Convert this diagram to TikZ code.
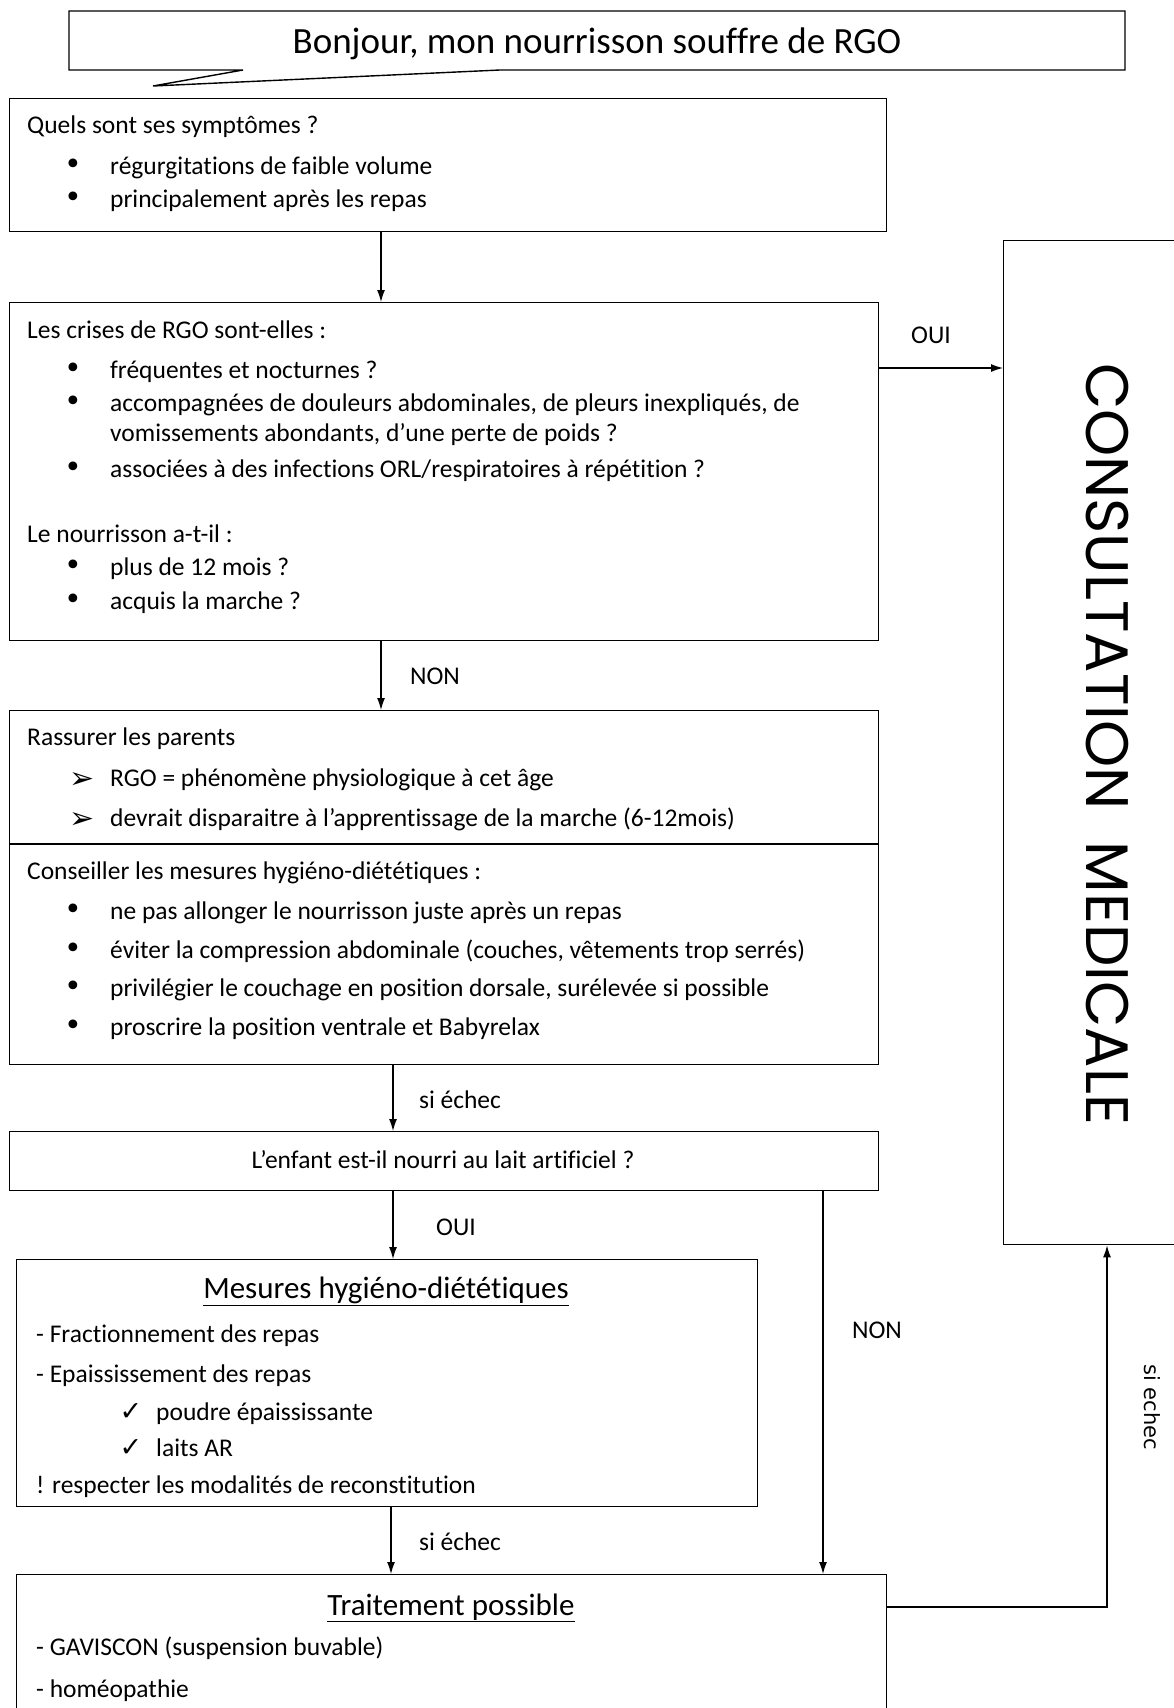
\documentclass[tikz,border=0pt]{standalone}
\usepackage{fontspec}
\setmainfont[Ligatures=NoCommon]{Carlito}
\newfontfamily\djv{DejaVu Sans}
\newfontfamily\geo{Poppins}
\usetikzlibrary{arrows.meta}
\newcommand{\bodyf}{\fontsize{25.5}{30}\selectfont}
\newcommand{\titlef}{\fontsize{37}{44}\selectfont}
\newcommand{\headf}{\fontsize{31}{37}\selectfont}
\newcommand{\bul}{{\djv\fontsize{30}{30}\selectfont •}}
\newcommand{\chk}{{\djv\fontsize{27}{30}\selectfont ✓}}
\newcommand{\arw}{{\djv\fontsize{30}{30}\selectfont ➢}}
\tikzset{
  box/.style={draw, line width=1.4pt, inner sep=0pt, anchor=north west},
  txt/.style={anchor=base west, inner sep=0pt, font=\bodyf},
  lbl/.style={anchor=center, inner sep=0pt, font=\bodyf},
  mk/.style={anchor=base, inner sep=0pt},
  arr/.style={-{Latex[length=12pt,width=8pt]}, line width=1.2pt},
  ln/.style={line width=1.2pt}
}
\begin{document}
\begin{tikzpicture}[x=1pt,y=1pt]
\useasboundingbox (0,0) rectangle (1174,-1708);
% speech bubble
\draw[line width=1.4pt, line join=miter] (243,-70) -- (69,-70) -- (69,-11) -- (1125,-11) -- (1125,-70) -- (500,-70) -- (153,-86) -- cycle;
\node[anchor=center, inner sep=0pt, font=\titlef] (title) at (597,-44) {Bonjour, mon nourrisson souffre de RGO};

% boxes
\node[box, minimum width=877pt, minimum height=133pt] (quel) at (9,-98) {};
\node[box, minimum width=869pt, minimum height=338pt] (crises) at (9,-302) {};
\node[box, minimum width=869pt, minimum height=354pt] (rass) at (9,-710) {};
\node[box, minimum width=869pt, minimum height=59pt] (enf) at (9,-1131) {};
\node[box, minimum width=741pt, minimum height=247pt] (mes) at (16,-1259) {};
\node[box, minimum width=870pt, minimum height=150pt] (trait) at (16,-1574) {};
\node[box, minimum width=190pt, minimum height=1004pt] (cons) at (1003,-240) {};
\draw[line width=1.4pt] (rass.west |- 0,-844) -- (rass.east |- 0,-844);

% consultation text
\node[rotate=-90, anchor=center, inner sep=0pt, font=\geo\fontsize{60}{64}\selectfont] (ctext) at (1107,-744) {CONSULTATION\ \ MEDICALE};

% quel
\node[txt] (q0) at (27,-133) {Quels sont ses symptômes ?};
\node[mk] (qb1) at (73,-174) {\bul};
\node[txt] (q1) at (110,-174) {régurgitations de faible volume};
\node[mk] (qb2) at (73,-207) {\bul};
\node[txt] (q2) at (110,-207) {principalement après les repas};

% crises
\node[txt] (c0) at (27,-338) {Les crises de RGO sont-elles :};
\node[mk] (cb1) at (73,-378) {\bul};
\node[txt] (c1) at (110,-378) {fréquentes et nocturnes ?};
\node[mk] (cb2) at (73,-411) {\bul};
\node[txt] (c2) at (110,-411) {accompagnées de douleurs abdominales, de pleurs inexpliqués, de};
\node[txt] (c2b) at (110,-441) {vomissements abondants, d’une perte de poids ?};
\node[mk] (cb3) at (73,-477) {\bul};
\node[txt] (c3) at (110,-477) {associées à des infections ORL/respiratoires à répétition ?};
\node[txt] (c4) at (27,-542) {Le nourrisson a-t-il :};
\node[mk] (cb5) at (73,-575) {\bul};
\node[txt] (c5) at (110,-575) {plus de 12 mois ?};
\node[mk] (cb6) at (73,-609) {\bul};
\node[txt] (c6) at (110,-609) {acquis la marche ?};

% rassurer
\node[txt] (r0) at (27,-745) {Rassurer les parents};
\node[mk] (ra1) at (82,-788) {\arw};
\node[txt] (r1) at (110,-786) {RGO = phénomène physiologique à cet âge};
\node[mk] (ra2) at (82,-828) {\arw};
\node[txt] (r2) at (110,-826) {devrait disparaitre à l’apprentissage de la marche (6-12mois)};

% conseiller
\node[txt] (k0) at (27,-879) {Conseiller les mesures hygiéno-diététiques :};
\node[mk] (kb1) at (73,-919) {\bul};
\node[txt] (k1) at (110,-919) {ne pas allonger le nourrisson juste après un repas};
\node[mk] (kb2) at (73,-958) {\bul};
\node[txt] (k2) at (110,-958) {éviter la compression abdominale (couches, vêtements trop serrés)};
\node[mk] (kb3) at (73,-996) {\bul};
\node[txt] (k3) at (110,-996) {privilégier le couchage en position dorsale, surélevée si possible};
\node[mk] (kb4) at (73,-1035) {\bul};
\node[txt] (k4) at (110,-1035) {proscrire la position ventrale et Babyrelax};

% enfant
\node[lbl] (e0) at (443,-1160) {L’enfant est-il nourri au lait artificiel ?};

% mesures
\node[anchor=base, inner sep=0pt, font=\headf] (m0) at (386,-1298) {\underline{Mesures hygiéno-diététiques}};
\node[txt] (m1) at (36,-1342) {- Fractionnement des repas};
\node[txt] (m2) at (36,-1382) {- Epaississement des repas};
\node[mk] (mc1) at (131,-1420) {\chk};
\node[txt] (m3) at (156,-1420) {poudre épaississante};
\node[mk] (mc2) at (131,-1456) {\chk};
\node[txt] (m4) at (156,-1456) {laits AR};
\node[txt] (m5) at (36,-1493) {! respecter les modalités de reconstitution};

% traitement
\node[anchor=base, inner sep=0pt, font=\headf] (t0) at (451,-1615) {\underline{Traitement possible}};
\node[txt] (t1) at (36,-1655) {- GAVISCON (suspension buvable)};
\node[txt] (t2) at (36,-1697) {- homéopathie};

% connector coordinates
\coordinate (x1) at (381,0);
\coordinate (x2) at (393,0);
\coordinate (x3) at (391,0);
\coordinate (x4) at (823,0);
\coordinate (x5) at (1107,0);
\coordinate (y1) at (0,-368);
\coordinate (y2) at (0,-1607);

\draw[arr] (quel.south -| x1) -- (crises.north -| x1);
\draw[arr] (crises.east |- y1) -- (cons.west |- y1);
\draw[arr] (crises.south -| x1) -- (rass.north -| x1);
\draw[arr] (rass.south -| x2) -- (enf.north -| x2);
\draw[arr] (enf.south -| x2) -- (mes.north -| x2);
\draw[arr] (mes.south -| x3) -- (trait.north -| x3);
\draw[arr] (enf.south -| x4) -- (trait.north -| x4);
\draw[arr] (trait.east |- y2) -- (x5 |- y2) -- (cons.south -| x5);

% labels
\node[lbl] (l1) at (931,-335) {OUI};
\node[lbl] (l2) at (435,-676) {NON};
\node[lbl] (l3) at (460,-1100) {si échec};
\node[lbl] (l4) at (456,-1227) {OUI};
\node[lbl] (l5) at (877,-1330) {NON};
\node[lbl] (l6) at (460,-1542) {si échec};
\node[rotate=-90, anchor=center, inner sep=0pt, font=\djv\fontsize{21}{24}\selectfont] (l7) at (1152,-1407) {si echec};
\end{tikzpicture}
\end{document}
